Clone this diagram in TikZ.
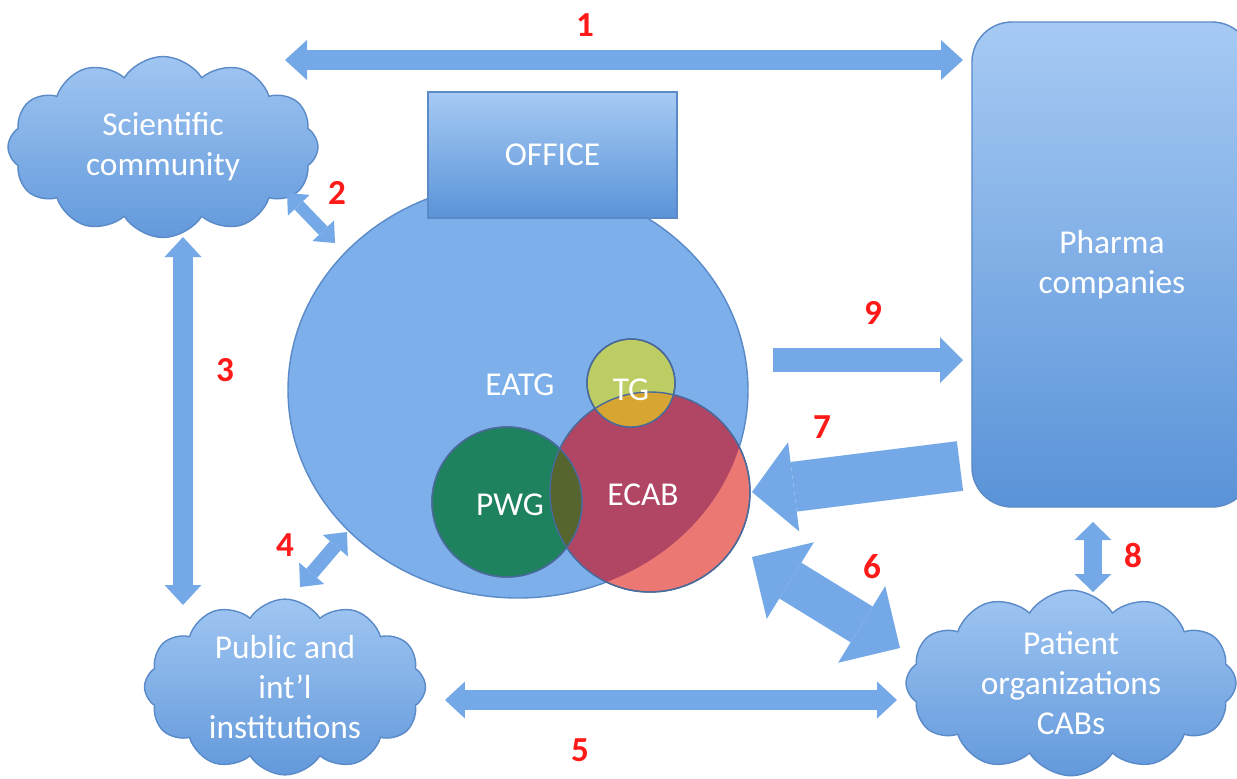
\documentclass[tikz,border=0pt]{standalone}
\usepackage{fontspec}
\setmainfont{Carlito}
\usetikzlibrary{shapes,arrows.meta}
\usetikzlibrary{calc}

\definecolor{blueA}{HTML}{A6CAF3}
\definecolor{blueB}{HTML}{5A93D8}
\definecolor{cloudA}{HTML}{A0C6F2}
\definecolor{cloudB}{HTML}{6399DB}
\definecolor{blueedge}{HTML}{5A8AC8}
\definecolor{arrowblue}{HTML}{74A8E6}
\definecolor{eatgblue}{HTML}{7DAFEB}
\definecolor{vennedge}{HTML}{4A6A9A}
\definecolor{ecabin}{HTML}{B04664}
\definecolor{ecabout}{HTML}{EB7873}
\definecolor{pwggreen}{HTML}{1E825F}
\definecolor{pwgecab}{HTML}{55652D}
\definecolor{tgyellow}{HTML}{BECC64}
\definecolor{tgecab}{HTML}{D7A532}
\definecolor{numred}{HTML}{FF1A1A}

\tikzset{
  txt/.style={text=white, font=\fontsize{9.5}{11.4}\selectfont, align=center},
  cloudnode/.style={cloud, cloud puffs=12, cloud puff arc=115, aspect=1.65, draw=blueedge, top color=cloudA, bottom color=cloudB, txt, inner sep=0pt},
  boxnode/.style={rectangle, draw=blueedge, top color=blueA, bottom color=blueB, txt},
  vennc/.style={circle, draw=vennedge, thin, inner sep=0pt},
  num/.style={text=numred, font=\fontsize{10}{12}\bfseries\selectfont},
  blk/.style n args={3}{draw=arrowblue, line width=#1, arrows={Triangle[length=#3,width=#2,line width=0pt]-Triangle[length=#3,width=#2,line width=0pt]}},
  blkone/.style n args={3}{draw=arrowblue, line width=#1, arrows={-Triangle[length=#3,width=#2,line width=0pt]}},
}

\begin{document}
\begin{tikzpicture}
\useasboundingbox (0,0) rectangle (12.37,7.78);

\node[cloudnode, minimum width=3.1cm, minimum height=1.81cm] (sci) at (1.63,6.31) {Scientific\\community};
\node[cloudnode, minimum width=2.81cm, minimum height=1.57cm] (pub) at (2.85,0.91) {Public and\\int'l\\institutions};
\node[cloudnode, minimum width=3.3cm, minimum height=1.53cm] (pat) at (10.71,0.95) {Patient\\organizations\\CABs};
\node[boxnode, rounded corners=0.4cm, minimum width=2.8cm, minimum height=4.85cm] (pharma) at (11.12,5.135) {Pharma\\companies};

\node[ellipse, draw=blueedge, fill=eatgblue, minimum width=4.6cm, minimum height=4.16cm] (eatg) at (5.18,3.88) {};
\node[boxnode, minimum width=2.49cm, minimum height=1.26cm] (office) at (5.525,6.23) {OFFICE};

\node[vennc, fill=ecabout, minimum size=2cm] (ecab) at (6.50,2.86) {};
\begin{scope}
\clip (eatg.center) ellipse [x radius=2.3cm, y radius=2.08cm];
\fill[ecabin] (ecab.center) circle (1cm);
\end{scope}
\node[vennc, fill=pwggreen, minimum size=1.5cm] (pwg) at (5.07,2.76) {};
\begin{scope}
\clip (ecab.center) circle (1cm);
\fill[pwgecab] (pwg.center) circle (0.75cm);
\end{scope}
\node[vennc, fill=tgyellow, minimum size=0.88cm] (tg) at (6.31,3.95) {};
\begin{scope}
\clip (ecab.center) circle (1cm);
\fill[tgecab] (tg.center) circle (0.44cm);
\end{scope}
\draw[vennedge, thin] (ecab.center) circle (1cm) (pwg.center) circle (0.75cm) (tg.center) circle (0.44cm);

\node[txt] (eatgl) at (5.20,3.93) {EATG};
\node[txt] (tgl) at (6.31,3.88) {TG};
\node[txt] (ecabl) at (6.43,2.83) {ECAB};
\node[txt] (pwgl) at (5.10,2.73) {PWG};

\coordinate (a1l) at (2.85,7.18);
\coordinate (a1r) at (9.63,7.18);
\coordinate (a2s) at (2.87,5.85);
\coordinate (a2e) at (3.35,5.35);
\coordinate (a3s) at (1.83,5.41);
\coordinate (a3e) at (1.83,1.73);
\coordinate (a4s) at (3.00,1.91);
\coordinate (a4e) at (3.47,2.46);
\coordinate (a5s) at (4.45,0.78);
\coordinate (a5e) at (8.97,0.78);
\coordinate (a6s) at (7.52,2.21);
\coordinate (a6e) at (9.00,1.30);
\coordinate (a7s) at (9.60,3.12);
\coordinate (a7e) at (7.52,2.86);
\coordinate (a8s) at (10.93,2.56);
\coordinate (a8e) at (10.93,1.86);
\coordinate (a9s) at (7.73,4.18);
\coordinate (a9e) at (9.63,4.18);

\draw[blk={0.2cm}{0.4cm}{0.22cm}] (a1l) -- (a1r);
\draw[blk={0.12cm}{0.3cm}{0.17cm}] (a2s) -- (a2e);
\draw[blk={0.2cm}{0.37cm}{0.2cm}] (a3s) -- (a3e);
\draw[blk={0.14cm}{0.33cm}{0.18cm}] (a4s) -- (a4e);
\draw[blk={0.2cm}{0.37cm}{0.2cm}] (a5s) -- (a5e);
\draw[blk={0.42cm}{0.9cm}{0.45cm}] (a6s) -- (a6e);
\draw[blkone={0.5cm}{0.9cm}{0.42cm}] (a7s) -- (a7e);
\draw[blk={0.18cm}{0.37cm}{0.18cm}] (a8s) -- (a8e);
\draw[blkone={0.24cm}{0.46cm}{0.23cm}] (a9s) -- (a9e);

\node[num] (n1) at (5.85,7.53) {1};
\node[num] (n2) at (3.37,5.85) {2};
\node[num] (n3) at (2.25,4.08) {3};
\node[num] (n4) at (2.85,2.33) {4};
\node[num] (n5) at (5.80,0.28) {5};
\node[num] (n6) at (8.72,2.11) {6};
\node[num] (n7) at (8.22,3.51) {7};
\node[num] (n8) at (11.33,2.23) {8};
\node[num] (n9) at (8.73,4.65) {9};

\end{tikzpicture}
\end{document}
